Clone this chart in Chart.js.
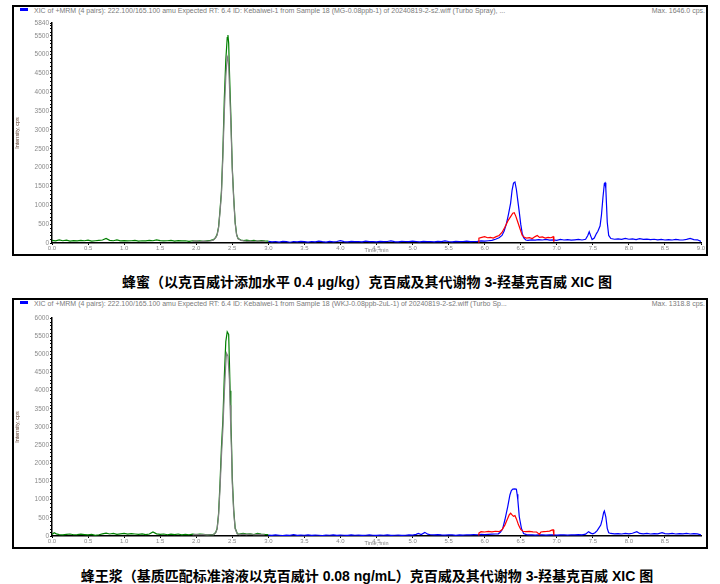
<!DOCTYPE html>
<html lang="zh">
<head>
<meta charset="UTF-8">
<title>XIC</title>
<script src="https://cdn.jsdelivr.net/npm/chart.js"></script>
<style>
  body { margin: 0; width: 720px; height: 584px; background: #fff; position: relative; overflow: hidden; }
  .panel { position: absolute; left: 12px; width: 696px; height: 251px; border: 2px solid #000; box-sizing: border-box; }
  .panel canvas { position: absolute; left: 0; top: 0; }
  .hdr { position: absolute; top: 0px; font-family: "Liberation Sans", Arial, sans-serif; font-size: 7px; color: #7a7a7a; white-space: nowrap; line-height: 7px; }
  .swatch { position: absolute; left: 6px; top: 1px; width: 8px; height: 3px; background: #0000ff; }
  .cap { position: absolute; left: 7px; width: 720px; text-align: center; font-family: "Liberation Sans", "Noto Sans CJK SC", sans-serif; font-weight: bold; font-size: 14px; color: #000; white-space: nowrap; }
</style>
</head>
<body>
<div class="panel" style="top:5px">
  <span class="swatch"></span>
  <span class="hdr" style="left:20px">XIC of +MRM (4 pairs): 222.100/165.100 amu Expected RT: 6.4 ID: Kebaiwei-1 from Sample 18 (MG-0.08ppb-1) of 20240819-2-s2.wiff (Turbo Spray), ...</span>
  <span class="hdr" style="right:1px">Max. 1646.0 cps.</span>
  <canvas id="c1" width="692" height="247"></canvas>
</div>
<div class="cap" style="top:271px">蜂蜜（以克百威计添加水平 0.4 μg/kg）克百威及其代谢物 3-羟基克百威 XIC 图</div>

<div class="panel" style="top:298px">
  <span class="swatch"></span>
  <span class="hdr" style="left:20px">XIC of +MRM (4 pairs): 222.100/165.100 amu Expected RT: 6.4 ID: Kebaiwei-1 from Sample 18 (WKJ-0.08ppb-2uL-1) of 20240819-2-s2.wiff (Turbo Sp...</span>
  <span class="hdr" style="right:1px">Max. 1318.8 cps.</span>
  <canvas id="c2" width="692" height="247"></canvas>
</div>
<div class="cap" style="top:565px">蜂王浆（基质匹配标准溶液以克百威计 0.08 ng/mL）克百威及其代谢物 3-羟基克百威 XIC 图</div>

<script>
// tick labels
const xTicks1 = [0, 0.5, 1, 1.5, 2, 2.5, 3, 3.5, 4, 4.5, 5, 5.5, 6, 6.5, 7, 7.5, 8, 8.5, 9];
const xTicks2 = [0, 0.5, 1, 1.5, 2, 2.5, 3, 3.5, 4, 4.5, 5, 5.5, 6, 6.5, 7, 7.5, 8, 8.5];
const yTicks1 = [0, 500, 1000, 1500, 2000, 2500, 3000, 3500, 4000, 4500, 5000, 5500, 5840];
const yTicks2 = [0, 500, 1000, 1500, 2000, 2500, 3000, 3500, 4000, 4500, 5000, 5500, 6000];

// honey sample  [time min, intensity cps]
const honeyGreen = [[0.00,70],[0.05,55],[0.10,80],[0.15,60],[0.20,75],[0.25,50],[0.30,65],[0.35,55],[0.40,70],[0.45,60],[0.50,75],[0.55,50],[0.60,60],[0.65,70],[0.70,80],[0.75,120],[0.80,70],[0.85,60],[0.90,80],[0.95,55],[1.00,65],[1.05,55],[1.10,60],[1.15,70],[1.20,50],[1.25,60],[1.30,55],[1.35,70],[1.40,60],[1.45,85],[1.50,65],[1.55,55],[1.60,60],[1.65,70],[1.70,50],[1.75,65],[1.80,55],[1.85,60],[1.90,45],[1.95,60],[2.00,50],[2.05,55],[2.10,45],[2.15,60],[2.20,70],[2.24,90],[2.27,150],[2.29,230],[2.31,430],[2.33,870],[2.35,1380],[2.37,2450],[2.39,3850],[2.41,4850],[2.43,5450],[2.44,5520],[2.45,5300],[2.46,4600],[2.48,3400],[2.50,2000],[2.52,1200],[2.54,550],[2.56,230],[2.58,120],[2.62,80],[2.66,65],[2.70,75],[2.75,55],[2.80,70],[2.85,50],[2.90,65],[2.95,55],[3.00,50]];
const honeyGrey = [[1.95,45],[2.00,55],[2.05,40],[2.10,50],[2.15,45],[2.20,55],[2.24,80],[2.27,140],[2.29,210],[2.31,400],[2.33,820],[2.35,1300],[2.37,2300],[2.39,3500],[2.41,4400],[2.43,4950],[2.44,4900],[2.45,4700],[2.46,4200],[2.48,3200],[2.50,1950],[2.52,1150],[2.54,520],[2.56,210],[2.58,110],[2.62,70],[2.66,55],[2.70,45],[2.75,50],[2.80,40],[2.85,55],[2.90,45],[2.95,50]];
const honeyBlue = [[3.00,45],[3.05,30],[3.10,40],[3.15,25],[3.20,45],[3.25,35],[3.30,20],[3.35,40],[3.40,30],[3.45,45],[3.50,35],[3.55,25],[3.60,40],[3.65,30],[3.70,50],[3.75,35],[3.80,25],[3.85,45],[3.90,30],[3.95,40],[4.00,60],[4.05,35],[4.10,30],[4.15,45],[4.20,35],[4.25,40],[4.30,30],[4.35,50],[4.40,35],[4.45,40],[4.50,30],[4.55,45],[4.60,35],[4.65,40],[4.70,55],[4.75,35],[4.80,30],[4.85,45],[4.90,40],[4.95,35],[5.00,50],[5.05,40],[5.10,30],[5.15,45],[5.20,35],[5.25,40],[5.30,30],[5.35,45],[5.40,35],[5.45,55],[5.50,40],[5.55,30],[5.60,45],[5.65,35],[5.70,40],[5.75,50],[5.80,35],[5.85,40],[5.90,45],[5.95,55],[6.00,50],[6.05,60],[6.10,70],[6.15,100],[6.20,140],[6.24,200],[6.27,320],[6.30,500],[6.33,760],[6.36,1060],[6.38,1400],[6.40,1590],[6.42,1620],[6.44,1420],[6.46,1120],[6.48,820],[6.50,500],[6.52,260],[6.54,140],[6.57,80],[6.60,70],[6.65,85],[6.70,75],[6.75,90],[6.80,80],[6.85,95],[6.90,75],[6.95,85],[7.00,70],[7.05,95],[7.10,80],[7.15,90],[7.20,75],[7.25,85],[7.30,95],[7.35,80],[7.40,100],[7.43,200],[7.45,300],[7.47,190],[7.49,90],[7.52,130],[7.55,250],[7.57,310],[7.60,450],[7.62,750],[7.64,1200],[7.66,1580],[7.67,1600],[7.68,1450],[7.69,1000],[7.70,550],[7.72,200],[7.75,120],[7.80,100],[7.85,110],[7.90,95],[7.95,120],[8.00,100],[8.05,110],[8.10,90],[8.15,115],[8.20,95],[8.25,105],[8.30,90],[8.35,100],[8.40,85],[8.45,95],[8.50,80],[8.55,90],[8.60,80],[8.65,95],[8.70,85],[8.75,80],[8.80,95],[8.85,120],[8.90,90],[8.95,85],[9.00,40]];
const honeyRed = [[5.91,20],[5.92,130],[5.96,150],[6.00,170],[6.04,140],[6.08,150],[6.12,130],[6.16,170],[6.20,200],[6.24,280],[6.28,420],[6.32,580],[6.36,700],[6.39,790],[6.41,805],[6.43,720],[6.46,550],[6.49,380],[6.52,210],[6.55,150],[6.58,130],[6.62,140],[6.66,120],[6.70,170],[6.73,200],[6.76,150],[6.80,160],[6.84,130],[6.88,150],[6.92,140],[6.95,170],[6.96,30]];

// royal jelly sample
const jellyGreen = [[0.00,40],[0.03,90],[0.06,60],[0.10,40],[0.15,30],[0.20,45],[0.25,55],[0.30,35],[0.35,40],[0.40,50],[0.45,40],[0.50,30],[0.55,45],[0.60,20],[0.65,35],[0.70,60],[0.75,80],[0.80,55],[0.85,70],[0.90,45],[0.95,60],[1.00,70],[1.05,50],[1.10,65],[1.15,55],[1.20,45],[1.25,60],[1.30,40],[1.35,55],[1.40,110],[1.45,60],[1.50,45],[1.55,55],[1.60,35],[1.65,50],[1.70,40],[1.75,55],[1.80,30],[1.85,45],[1.90,35],[1.95,50],[2.00,40],[2.05,55],[2.10,45],[2.15,35],[2.20,40],[2.24,40],[2.27,100],[2.29,210],[2.31,620],[2.33,1450],[2.35,2450],[2.37,3200],[2.39,4400],[2.41,5350],[2.43,5620],[2.45,5550],[2.46,4800],[2.47,4000],[2.48,3200],[2.49,2500],[2.50,1600],[2.52,720],[2.54,220],[2.57,60],[2.60,50],[2.65,70],[2.70,50],[2.75,60],[2.80,40],[2.85,70],[2.90,55],[2.95,45],[3.00,40]];
const jellyGrey = [[1.95,30],[2.00,45],[2.05,35],[2.10,40],[2.15,30],[2.20,35],[2.24,35],[2.27,90],[2.29,190],[2.31,560],[2.33,1300],[2.35,2200],[2.37,2950],[2.39,3950],[2.41,4750],[2.42,5030],[2.44,4950],[2.46,4300],[2.47,3600],[2.48,2900],[2.49,2300],[2.50,1450],[2.52,650],[2.54,200],[2.57,55],[2.60,40],[2.65,50],[2.70,40],[2.75,55],[2.80,35],[2.85,45],[2.90,40],[2.95,35]];
const jellyBlue = [[3.00,25],[3.05,15],[3.10,30],[3.15,20],[3.20,10],[3.25,25],[3.30,20],[3.35,35],[3.40,15],[3.45,25],[3.50,20],[3.55,30],[3.60,15],[3.65,25],[3.70,20],[3.75,10],[3.80,25],[3.85,20],[3.90,30],[3.95,15],[4.00,25],[4.05,20],[4.10,15],[4.15,30],[4.20,20],[4.25,25],[4.30,15],[4.35,20],[4.40,30],[4.45,20],[4.50,15],[4.55,25],[4.60,20],[4.65,30],[4.70,15],[4.75,20],[4.80,25],[4.85,15],[4.90,20],[4.95,30],[5.00,25],[5.05,45],[5.08,70],[5.12,40],[5.17,100],[5.21,50],[5.25,35],[5.30,30],[5.35,40],[5.40,30],[5.45,25],[5.50,35],[5.55,30],[5.60,20],[5.65,30],[5.70,25],[5.75,35],[5.80,30],[5.85,40],[5.90,35],[5.95,45],[6.00,40],[6.05,45],[6.10,50],[6.15,55],[6.19,60],[6.22,110],[6.25,200],[6.28,440],[6.30,620],[6.32,810],[6.35,1130],[6.37,1250],[6.39,1290],[6.42,1295],[6.44,1285],[6.45,1150],[6.46,990],[6.48,530],[6.51,210],[6.54,70],[6.58,40],[6.62,30],[6.66,35],[6.70,25],[6.75,30],[6.80,35],[6.85,25],[6.90,30],[6.95,35],[7.00,25],[7.05,30],[7.10,35],[7.15,25],[7.20,35],[7.25,30],[7.30,40],[7.35,30],[7.40,50],[7.44,120],[7.47,80],[7.50,60],[7.53,90],[7.56,150],[7.58,210],[7.61,300],[7.63,450],[7.65,650],[7.66,690],[7.68,530],[7.70,210],[7.72,90],[7.75,70],[7.80,60],[7.85,65],[7.90,55],[7.95,70],[8.00,60],[8.05,75],[8.11,120],[8.15,70],[8.20,60],[8.25,70],[8.30,55],[8.35,65],[8.40,60],[8.46,90],[8.50,65],[8.55,60],[8.60,70],[8.65,55],[8.70,65],[8.75,60],[8.80,70],[8.85,55],[8.90,65],[8.95,60],[9.00,30]];
const jellyRed = [[5.91,30],[5.92,80],[5.95,120],[6.00,110],[6.05,125],[6.10,115],[6.15,130],[6.20,120],[6.24,170],[6.28,300],[6.31,440],[6.34,580],[6.36,630],[6.38,580],[6.40,540],[6.42,560],[6.44,470],[6.47,300],[6.50,180],[6.53,130],[6.57,120],[6.62,125],[6.67,115],[6.72,110],[6.76,45],[6.78,110],[6.82,120],[6.86,125],[6.90,135],[6.93,160],[6.95,170],[6.96,20]];

// small minor ticks on the y axis every 100 cps
const minorTicks = {
  id: 'minorTicks',
  afterDraw(chart) {
    const y = chart.scales.y, ctx = chart.ctx;
    ctx.save();
    ctx.strokeStyle = '#000';
    ctx.lineWidth = 1;
    for (let v = 100; v < y.max; v += 100) {
      if (v % 500 === 0) continue;
      const py = Math.round(y.getPixelForValue(v)) + 0.5;
      ctx.beginPath();
      ctx.moveTo(y.right - 2, py);
      ctx.lineTo(y.right, py);
      ctx.stroke();
    }
    ctx.restore();
  }
};

function line(pts, color, order) {
  return {
    data: pts.map(p => ({ x: p[0], y: p[1] })),
    borderColor: color,
    borderWidth: 1.2,
    pointRadius: 0,
    tension: 0,
    fill: false,
    order: order
  };
}

function makeChart(id, sets, xTicks, yTicks, yMax, padTop) {
  new Chart(document.getElementById(id), {
    type: 'line',
    data: { datasets: sets },
    options: {
      responsive: false,
      animation: false,
      events: [],
      plugins: { legend: { display: false }, tooltip: { enabled: false } },
      layout: { padding: { top: padTop, right: 5, left: 0, bottom: 0 } },
      scales: {
        x: {
          type: 'linear', min: 0, max: 9,
          afterBuildTicks: s => { s.ticks = xTicks.map(v => ({ value: v })); },
          afterFit: s => { s.height = 11; },
          grid: { drawOnChartArea: false, color: '#000', tickLength: 2 },
          border: { color: '#000', width: 1.5 },
          ticks: {
            autoSkip: false, maxRotation: 0, padding: 0,
            font: { family: 'Liberation Sans', size: 6 }, color: '#8a8a8a',
            callback: v => Number(v).toFixed(1)
          },
          title: { display: true, text: 'Time, min', font: { family: 'Liberation Sans', size: 5.5 }, color: '#7a7a7a', padding: 0 }
        },
        y: {
          min: 0, max: yMax,
          afterBuildTicks: s => { s.ticks = yTicks.map(v => ({ value: v })); },
          afterFit: s => { s.width = 38; },
          grid: { drawOnChartArea: false, color: '#000', tickLength: 2 },
          border: { color: '#000', width: 1.5 },
          ticks: {
            autoSkip: false, padding: 1,
            font: { family: 'Liberation Sans', size: 6.5 }, color: '#8a8a8a',
            callback: v => String(v)
          },
          title: { display: true, text: 'Intensity, cps', font: { family: 'Liberation Sans', size: 5.5 }, color: '#5a3a2a', padding: 0 }
        }
      }
    },
    plugins: [minorTicks]
  });
}

makeChart('c1', [
  line(honeyGrey, '#808080', 0),
  line(honeyGreen, '#008000', 1),
  line(honeyRed, '#ff0000', 2),
  line(honeyBlue, '#0000ff', 3)
], xTicks1, yTicks1, 5840, 16);

makeChart('c2', [
  line(jellyGrey, '#808080', 0),
  line(jellyGreen, '#008000', 1),
  line(jellyRed, '#ff0000', 2),
  line(jellyBlue, '#0000ff', 3)
], xTicks2, yTicks2, 6000, 18);
</script>
</body>
</html>
